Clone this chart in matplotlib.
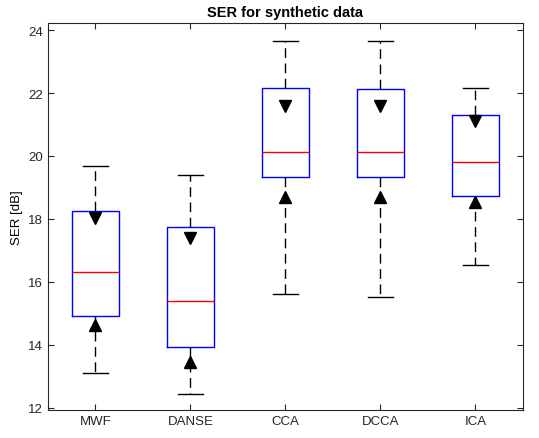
import matplotlib
matplotlib.use('Agg')
from matplotlib import pyplot as plt

plt.rcParams['font.family'] = ['Liberation Sans', 'DejaVu Sans']

methods = ['MWF', 'DANSE', 'CCA', 'DCCA', 'ICA']
whislo = [13.10, 12.44, 15.60, 15.53, 16.55]
q1 = [14.91, 13.93, 19.32, 19.32, 18.73]
med = [16.32, 15.40, 20.13, 20.14, 19.80]
q3 = [18.25, 17.75, 22.17, 22.13, 21.29]
whishi = [19.69, 19.40, 23.65, 23.65, 22.17]
notch_lo = [14.63, 13.45, 18.71, 18.71, 18.53]
notch_hi = [18.02, 17.39, 21.60, 21.60, 21.12]

stats = []
for i in range(len(methods)):
    stats.append(dict(label=methods[i], whislo=whislo[i], q1=q1[i], med=med[i],
                      q3=q3[i], whishi=whishi[i], fliers=[]))

fig = plt.figure(figsize=(5.39, 4.39), dpi=100)
ax = fig.add_axes([0.089, 0.064, 0.881, 0.881])

pos = list(range(1, len(methods) + 1))
ax.bxp(stats, positions=pos, widths=0.5, capwidths=0.27, showfliers=False,
       boxprops=dict(color='blue', linewidth=1),
       medianprops=dict(color='red', linewidth=1),
       whiskerprops=dict(color='black', linewidth=1, linestyle=(0, (7, 4))),
       capprops=dict(color='black', linewidth=1))

# notch markers
ax.plot(pos, notch_hi, linestyle='none', marker='v', color='black', markersize=8)
ax.plot(pos, notch_lo, linestyle='none', marker='^', color='black', markersize=8)

ax.set_xlim(0.5, 5.5)
ax.set_ylim(11.93, 24.22)
ax.set_yticks([12, 14, 16, 18, 20, 22, 24])
ax.set_xticks(pos)
ax.set_xticklabels(methods)
ax.tick_params(direction='in', top=True, right=True, length=4, labelsize=9.5,
               colors='#262626')
for s in ax.spines.values():
    s.set_color('#262626')
ax.set_ylabel('SER [dB]', fontsize=9.5)
ax.set_title('SER for synthetic data', fontsize=10.5, fontweight='bold', pad=5)

fig.savefig('out.png', dpi=100)
